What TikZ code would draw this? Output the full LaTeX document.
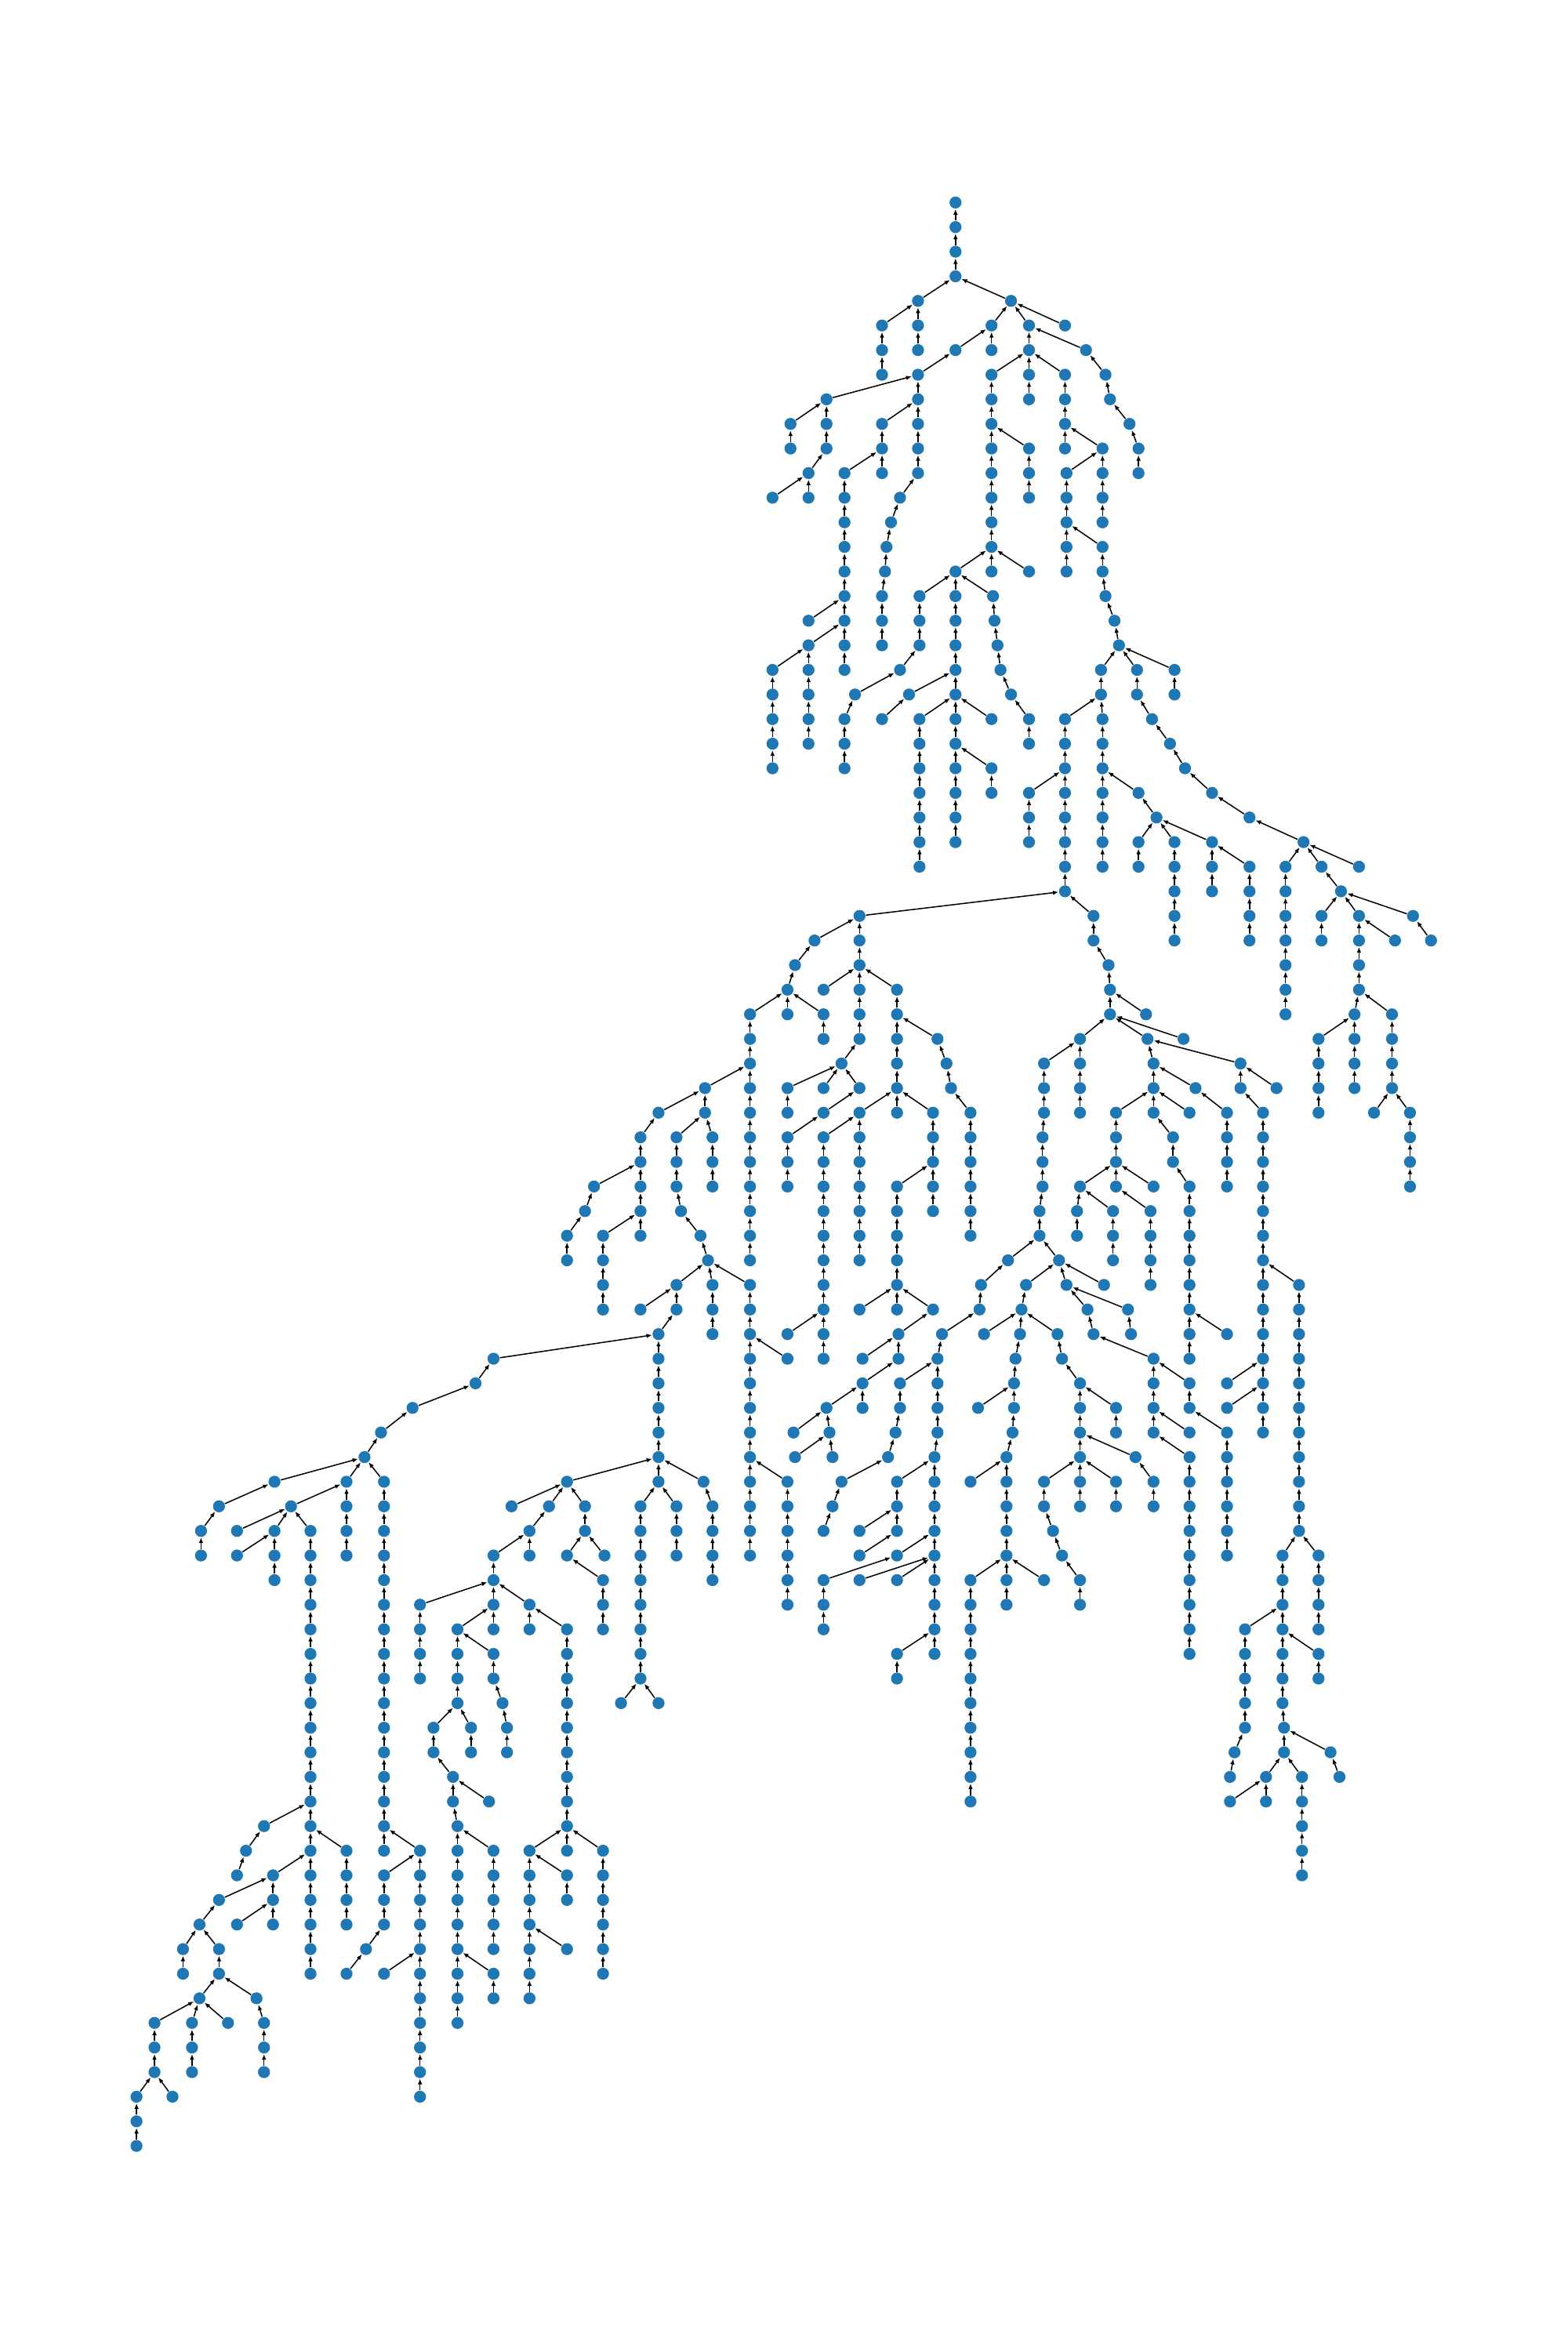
\documentclass[tikz,border=0pt]{standalone}
\usepackage{xcolor}
\usepackage{tikz}
\usetikzlibrary{arrows.meta}
\definecolor{treeblue}{HTML}{1F77B4}
\tikzset{
  vert/.style={circle, fill=treeblue, draw=none, inner sep=0pt, minimum size=1.6mm},
  link/.style={-{Latex[length=0.75mm,width=0.6mm]}, line width=0.45pt, draw=black},
}
% each entry: x / first rank / last rank / x of the parent one rank above the first
\def\treechains{%
  % crown
  637/0/3/0, 612/4/6/637, 674/4/4/637, 588/5/7/612, 661/5/6/674, 686/5/8/674, 710/5/5/674,
  637/6/6/661, 724/6/6/686, 612/7/11/637, 661/7/15/686, 710/7/10/686, 737/7/7/724, 740/8/8/737,
  753/9/9/740, 759/10/11/753, 551/8/10/612, 527/9/10/551, 588/9/11/612, 686/10/12/661,
  735/10/13/710, 539/11/12/551, 515/12/12/539, 563/11/19/588, 711/11/15/735, 600/12/12/612,
  594/13/13/600, 591/14/14/594, 590/15/15/591, 588/16/18/590, 735/14/15/711, 737/16/16/735,
  743/17/17/737, 746/18/18/743, 637/15/26/661, 686/15/15/661, 613/16/18/637, 662/16/16/637,
  663/17/17/662, 665/18/18/663, 667/19/19/665, 674/20/20/667, 686/21/22/674, 539/17/17/563,
  539/18/22/563, 515/19/23/539, 600/19/19/613, 570/20/20/600, 563/21/23/570, 606/20/20/637,
  588/21/21/606, 613/21/27/637, 661/21/21/637, 661/23/24/637, 734/19/20/746, 710/21/28/734,
  686/24/26/710, 735/21/27/734, 758/19/20/746, 768/21/21/758, 780/22/22/768, 790/23/23/780,
  808/24/24/790, 833/25/25/808, 869/26/26/833, 857/27/33/869, 881/27/27/869, 894/28/28/881,
  881/29/30/894, 906/29/32/894, 942/29/29/894, 930/30/30/906, 954/30/30/942, 903/33/36/906,
  928/33/36/906, 879/34/37/903, 916/37/37/928, 940/37/40/928, 906/27/27/869, 783/19/20/746,
  759/24/24/735, 771/25/25/759, 759/26/27/771, 783/26/30/771, 808/26/28/771, 833/27/30/808,
  % right half of the middle
  573/29/34/710, 729/29/30/710, 739/31/31/729, 740/32/33/739, 764/33/33/740, 720/34/37/740,
  765/34/34/740, 789/34/34/740, 696/35/37/720, 695/38/40/696, 693/41/42/695, 769/35/37/765,
  827/35/36/765, 851/36/36/827, 797/36/36/769, 818/37/40/797, 744/37/40/769, 793/37/37/769,
  782/38/39/769, 793/40/47/782, 842/37/50/827, 720/40/40/744, 718/41/42/720, 742/41/43/720,
  769/40/40/744, 767/41/44/744, 672/43/43/693, 706/43/43/693, 684/44/44/706, 681/45/45/684,
  680/46/46/681, 677/47/47/680, 676/48/49/677, 675/50/50/676, 671/51/57/675, 711/44/44/706,
  725/45/45/711, 729/46/46/725, 752/45/45/711, 754/46/46/752, 736/44/44/706, 705/46/46/681,
  708/47/47/705, 720/48/53/708, 818/46/46/793, 866/44/54/842, 769/47/50/729, 793/48/49/769,
  793/50/50/769, 793/51/59/769, 818/48/48/842, 818/49/49/842, 818/50/55/793, 744/49/50/720,
  757/51/51/720, 769/52/53/757, 696/52/53/720, 702/54/54/696, 708/55/55/702, 720/56/57/708,
  744/52/53/720, 696/56/56/671, 855/55/61/866, 856/62/63/855, 879/55/58/866, 830/58/62/855,
  823/63/63/830, 820/64/64/823, 879/59/60/855, 887/63/63/856, 893/64/64/887, 844/64/65/856,
  820/65/65/844, 868/64/68/856, 652/49/49/676, 647/52/52/671, 647/56/65/671,
  % left half of the middle
  543/30/30/573, 530/31/31/543, 525/32/33/530, 500/33/43/525, 549/32/32/573, 549/33/34/525,
  598/32/37/573, 625/34/34/598, 631/35/35/625, 634/36/36/631, 647/37/42/634, 561/35/35/573,
  525/36/37/561, 549/36/36/561, 573/36/36/561, 470/36/37/500, 439/37/37/470, 427/38/42/439,
  451/38/40/470, 454/41/41/451, 467/42/42/454, 472/43/43/467, 475/38/40/470, 396/40/40/427,
  390/41/41/396, 378/42/43/390, 402/42/45/427, 525/38/40/549, 549/37/37/573, 549/38/47/573,
  573/37/43/598, 622/37/41/598, 598/40/45/622, 451/44/45/472, 427/45/45/451, 475/44/46/472,
  500/44/55/472, 439/46/52/451, 654/44/44/672, 653/45/45/654, 628/46/46/653, 656/46/46/681,
  573/45/45/598, 622/45/45/598, 599/46/47/622, 525/46/46/549,
  % lower middle
  625/47/50/628, 575/47/47/599, 575/48/49/599, 600/48/49/625, 551/49/49/575, 529/50/50/551,
  553/50/50/551, 530/51/51/553, 555/51/51/553, 597/50/50/600, 592/51/51/597, 561/52/52/592,
  555/53/53/561, 549/54/54/555, 623/51/59/625, 598/52/54/623, 573/54/54/598, 573/55/55/598,
  598/55/55/623, 549/56/58/598, 573/56/56/623, 598/56/56/623, 598/59/60/623, 427/53/60/439,
  451/53/55/439, 469/52/52/439, 475/53/56/469, 525/47/47/500, 525/52/57/500, 378/52/52/439,
  414/61/61/427, 439/61/61/427,
  % lower left
  329/47/47/439, 317/48/48/329, 275/49/49/317, 254/50/50/275, 243/51/51/254, 183/52/52/243,
  146/53/53/183, 134/54/55/146, 231/52/55/243, 256/52/67/243, 194/53/53/231, 158/54/54/194,
  183/54/56/194, 207/54/72/194, 158/55/55/183, 341/53/53/378, 366/53/53/378, 390/53/54/378,
  353/54/55/366, 329/55/58/353, 378/55/55/390, 403/55/55/390, 402/56/58/378, 280/57/60/329,
  353/57/58/329, 305/58/61/329, 329/59/60/305, 335/61/61/329, 338/62/63/335, 378/58/67/353,
  289/62/63/305, 314/62/63/305, 302/64/65/289, 326/65/65/302, 305/66/74/302, 329/67/71/305,
  329/72/73/305, 280/67/77/256, 256/68/70/280, 244/71/71/256, 231/72/72/244, 256/72/72/280,
  176/66/66/207, 164/67/67/176, 158/68/68/164, 231/67/70/207, 182/68/70/207, 146/69/69/182,
  158/70/70/182, 133/70/70/146, 122/71/72/133, 146/71/72/133, 133/73/73/146, 171/73/73/146,
  103/74/76/133, 128/74/76/133, 152/74/74/133, 176/74/76/171, 91/77/79/103, 115/77/77/103,
  353/67/73/378, 378/68/69/353, 378/71/71/353, 402/67/72/378%
}

\begin{document}
\begin{tikzpicture}[x=0.02cm,y=-0.02cm]
  \useasboundingbox (0,0) rectangle (1045,1568);
  % vertices, one rank every 16.4 units
  \foreach \x/\ra/\rb/\px in \treechains {
    \foreach \row in {\ra,...,\rb}
      \node[vert] (n\x-\row) at (\x,{135+16.4*\row}) {};
  }
  % child -> parent arrows
  \foreach \x/\ra/\rb/\px in \treechains {
    \foreach \row in {\ra,...,\rb} {
      \pgfmathtruncatemacro\prev{\row-1}
      \ifnum\row=\ra
        \ifnum\ra>0 \draw[link] (n\x-\row) -- (n\px-\prev); \fi
      \else
        \draw[link] (n\x-\row) -- (n\x-\prev);
      \fi
    }
  }
\end{tikzpicture}
\end{document}
